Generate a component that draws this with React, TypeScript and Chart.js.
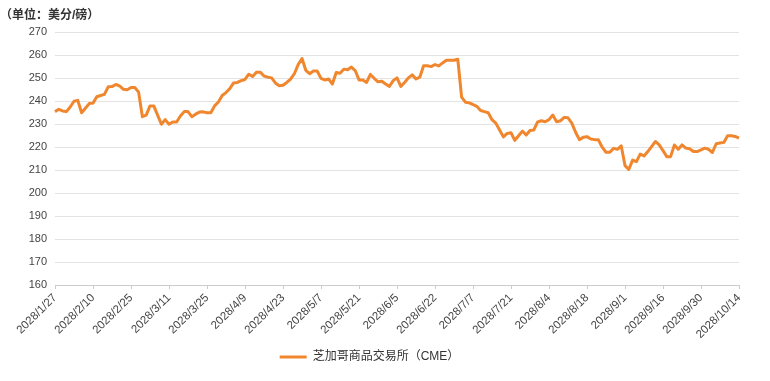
import React, { useEffect, useRef } from "react";
import { Chart, registerables } from "chart.js";

Chart.register(...registerables);

const titleText = "（单位：美分/磅）";
const seriesName = "芝加哥商品交易所（CME）";

const tickLabels = [
  "2028/1/27", "2028/2/10", "2028/2/25", "2028/3/11", "2028/3/25", "2028/4/9",
  "2028/4/23", "2028/5/7", "2028/5/21", "2028/6/5", "2028/6/22", "2028/7/7",
  "2028/7/21", "2028/8/4", "2028/8/18", "2028/9/1", "2028/9/16", "2028/9/30",
  "2028/10/14",
];

const pricesJanMar = [
  235.5, 236.5, 235.8, 235.5, 237.5, 240, 240.4, 235, 237, 239, 239.2, 242, 242.5,
  243, 246.3, 246.4, 247.3, 246.7, 245.2, 245, 246, 246, 244, 233.3, 234, 238,
  238, 234, 230, 232, 230, 231, 231, 233.6, 235.5, 235.5, 233.3,
];
const pricesMarMay = [
  234.4, 235.3, 235.4, 235, 235, 238, 239.7, 242.5, 243.8, 245.5, 248, 248.2, 249,
  249.5, 251.8, 250.8, 252.6, 252.7, 251, 250.5, 250.2, 248, 246.8, 247, 248.2,
  249.7, 252, 256, 258.6, 253.5, 252, 253.2, 253.2, 250, 249.3, 249.7, 247.5,
];
const pricesMayJul = [
  252.5, 252.2, 254, 253.7, 254.9, 253.4, 249.3, 249.3, 248.2, 251.7, 250, 248.5,
  248.7, 247.5, 246.5, 249, 250.2, 246.5, 248.2, 250.2, 251.5, 249.7, 250.5, 255.5,
  255.5, 255.1, 256, 255.4, 256.7, 257.9, 257.9, 257.9, 258.3, 241.8, 239.6, 239.3,
  238.6,
];
const pricesJulAug = [
  237.8, 236, 235.5, 235, 232, 230.5, 227.5, 224.5, 226, 226.3, 223, 225, 227,
  225.3, 227.3, 227.5, 231, 231.5, 231.1, 232, 234, 231.1, 231.5, 233, 232.8, 230.5,
  226.5, 223.3, 224.3, 224.6, 223.6, 223.3, 223.2, 220, 217.8, 217.8, 219.5,
];
const pricesAugOct = [
  219.1, 220.6, 212, 210.3, 214.4, 213.7, 217, 216.2, 218.1, 220.3, 222.5, 221,
  218.5, 215.9, 215.9, 221, 219.1, 221, 219.6, 219.3, 218.1, 218.1, 218.8, 219.6,
  219.1, 217.7, 221.5, 221.8, 222.1, 225, 225, 224.7, 224,
];

const prices = [
  ...pricesJanMar,
  ...pricesMarMay,
  ...pricesMayJul,
  ...pricesJulAug,
  ...pricesAugOct,
];
const TICK_EVERY = 10;
const categories = prices.map((_, i) =>
  i % TICK_EVERY === 0 ? tickLabels[i / TICK_EVERY] : ""
);

const FONT = "Arial, 'Liberation Sans', 'Noto Sans CJK SC', sans-serif";
const LINE_COLOR = "#F0872E";

export default function App() {
  const ref = useRef<HTMLCanvasElement | null>(null);

  useEffect(() => {
    document.body.style.margin = "0";
    const canvas = ref.current;
    if (!canvas) return;
    const chart = new Chart(canvas, {
      type: "line",
      data: {
        labels: categories,
        datasets: [
          {
            label: seriesName,
            data: prices,
            borderColor: LINE_COLOR,
            backgroundColor: LINE_COLOR,
            borderWidth: 3,
            pointRadius: 0,
            pointHoverRadius: 0,
            tension: 0,
            borderJoinStyle: "round",
            fill: false,
          },
        ],
      },
      options: {
        animation: false,
        responsive: false,
        maintainAspectRatio: false,
        layout: { padding: { top: 0, left: 0, right: 31, bottom: 8 } },
        plugins: {
          tooltip: { enabled: false },
          title: {
            display: true,
            text: titleText,
            align: "start",
            color: "#333",
            font: { family: FONT, size: 12, weight: "bold" },
            padding: { top: 8, bottom: 10 },
          },
          legend: {
            display: true,
            position: "bottom",
            labels: {
              usePointStyle: true,
              pointStyle: "line",
              pointStyleWidth: 27,
              boxHeight: 12,
              color: "#333",
              font: { family: FONT, size: 12 },
              padding: 10,
            },
          },
        },
        scales: {
          x: {
            type: "category",
            offset: false,
            afterFit: (s: any) => {
              s.height = 56;
            },
            grid: {
              display: true,
              drawOnChartArea: false,
              drawTicks: true,
              tickLength: 4,
              color: "#ccc",
            },
            border: { display: true, color: "#ccc" },
            ticks: {
              autoSkip: false,
              maxRotation: 45,
              minRotation: 45,
              color: "#444",
              font: { family: FONT, size: 11.5 },
              padding: 2,
              callback: (_v: any, i: number) =>
                i % TICK_EVERY === 0 ? tickLabels[i / TICK_EVERY] : null,
            },
          },
          y: {
            min: 160,
            max: 270,
            afterFit: (s: any) => {
              s.width = 55;
            },
            grid: { color: "#e3e3e3", drawTicks: false },
            border: { display: false },
            ticks: {
              stepSize: 10,
              color: "#444",
              font: { family: FONT, size: 11 },
              padding: 8,
            },
          },
        },
      },
    });
    return () => chart.destroy();
  }, []);

  return (
    <div style={{ width: 770, height: 381 }}>
      <canvas ref={ref} width={770} height={381} style={{ display: "block" }} />
    </div>
  );
}
